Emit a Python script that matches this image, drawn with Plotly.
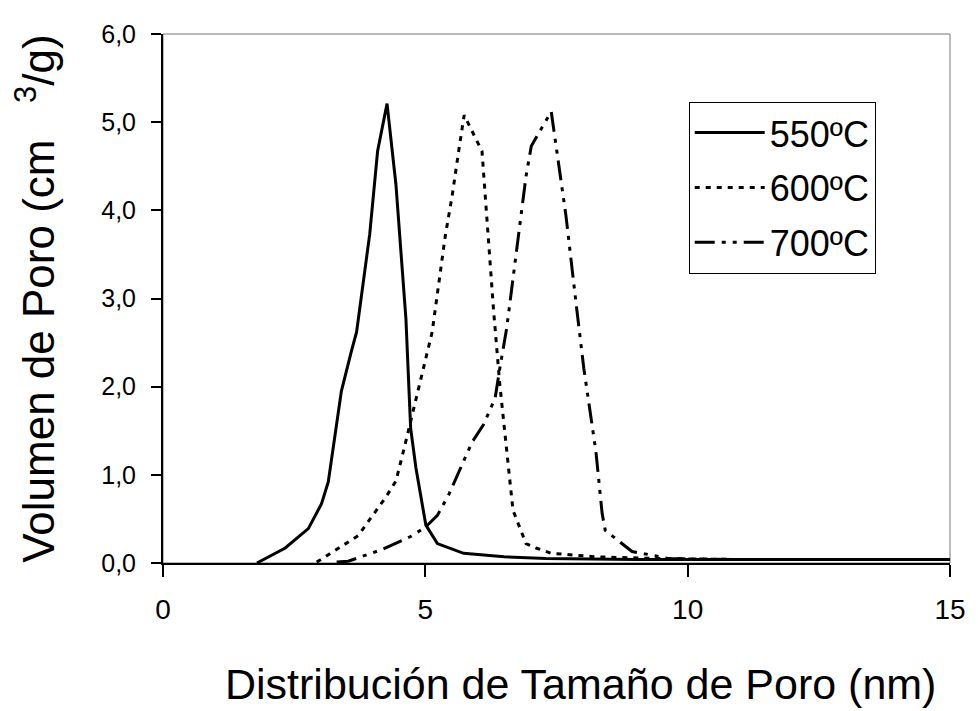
import plotly.graph_objects as go

# Data
x_550 = [1.79, 2.33, 2.77, 3.02, 3.15, 3.25, 3.40, 3.59, 3.69, 3.94, 4.09, 4.27, 4.44, 4.63,
         4.72, 4.82, 5.01, 5.23, 5.73, 6.5, 7.3, 9.0, 11.0, 13.0, 15.0]
y_550 = [0.0, 0.17, 0.39, 0.67, 0.92, 1.31, 1.95, 2.40, 2.62, 3.73, 4.67, 5.21, 4.29, 2.77,
         1.53, 1.08, 0.43, 0.22, 0.11, 0.07, 0.05, 0.04, 0.04, 0.04, 0.04]

x_600 = [2.93, 3.72, 4.25, 4.44, 4.60, 4.82, 4.97, 5.13, 5.38, 5.51, 5.64, 5.74, 6.08, 6.30,
         6.42, 6.52, 6.67, 6.92, 7.11, 7.40, 8.25, 9.5, 11.0, 13.0, 15.0]
y_600 = [0.01, 0.31, 0.75, 0.93, 1.31, 1.84, 2.23, 2.62, 3.71, 4.16, 4.69, 5.08, 4.67, 2.87,
         2.02, 1.46, 0.60, 0.22, 0.17, 0.11, 0.07, 0.05, 0.04, 0.04, 0.04]

x_700 = [3.31, 3.53, 4.16, 4.72, 5.01, 5.23, 5.45, 5.67, 5.89, 6.11, 6.33, 6.42, 6.55, 6.80,
         6.92, 7.02, 7.40, 7.43, 7.68, 7.87, 8.02, 8.25, 8.37, 8.43, 8.94, 9.31, 9.63, 11.0,
         13.0, 15.0]
y_700 = [0.01, 0.02, 0.15, 0.30, 0.41, 0.54, 0.78, 1.08, 1.37, 1.57, 1.87, 2.21, 2.66, 3.83,
         4.39, 4.73, 5.12, 4.99, 3.94, 2.96, 2.21, 1.27, 0.56, 0.37, 0.13, 0.09, 0.05, 0.04,
         0.04, 0.04]

series_names = ["550ºC", "600ºC", "700ºC"]
x_ticks = [0, 5, 10, 15]
y_ticks = [0, 1, 2, 3, 4, 5, 6]

FONT = "Liberation Sans, Arial, sans-serif"

fig = go.Figure()
fig.add_trace(go.Scatter(x=x_550, y=y_550, mode="lines", name=series_names[0],
                         legendgroup="a",
                         line=dict(color="black", width=3, dash="solid")))
fig.add_trace(go.Scatter(x=x_600, y=y_600, mode="lines", name=series_names[1],
                         legendgroup="b",
                         line=dict(color="black", width=3, dash="5px,6px")))
fig.add_trace(go.Scatter(x=x_700, y=y_700, mode="lines", name=series_names[2],
                         legendgroup="c",
                         line=dict(color="black", width=3,
                                   dash="20px,7px,4px,7px,4px,7px")))

# The page body adds an 8px offset, so the figure is 8px smaller and margins shifted.
fig.update_layout(
    width=970, height=703,
    margin=dict(l=155, r=20, t=22, b=148),
    paper_bgcolor="white", plot_bgcolor="white",
    separators=",.",
    font=dict(family=FONT, color="black"),
    showlegend=True,
    legend=dict(
        x=0.668, y=0.872, xanchor="left", yanchor="top",
        bgcolor="white", bordercolor="black", borderwidth=1,
        font=dict(size=36, family=FONT, color="black"),
        itemwidth=70, tracegroupgap=5,
    ),
    shapes=[dict(type="rect", xref="paper", yref="paper", x0=0, x1=1, y0=0, y1=1,
                 line=dict(color="#777777", width=1), layer="below")],
    annotations=[dict(text="Distribución de Tamaño de Poro (nm)", xref="paper", yref="paper",
                      x=0.53, y=-0.229, xanchor="center", yanchor="middle",
                      showarrow=False, font=dict(size=43, family=FONT, color="black"))],
)

fig.update_xaxes(
    range=[0, 15], tickvals=x_ticks, ticktext=[str(v) for v in x_ticks],
    showgrid=False, zeroline=False,
    showline=True, linecolor="black", linewidth=2,
    ticks="outside", ticklen=12, tickwidth=1.5, tickcolor="black",
    tickfont=dict(size=28, family=FONT, color="black"),
    ticklabelstandoff=8,
)
fig.update_yaxes(
    range=[0, 6], tickvals=y_ticks, tickformat=".1f",
    showgrid=False, zeroline=False,
    showline=True, linecolor="black", linewidth=2,
    ticks="outside", ticklen=10, tickwidth=1.5, tickcolor="black",
    tickfont=dict(size=25, family=FONT, color="black"),
    ticklabelstandoff=10,
    title=dict(text="Volumen de Poro (cm\u00a0\u00a0\u00a0<sup>3</sup>/g)",
               font=dict(size=44, family=FONT, color="black"), standoff=36),
)

fig.write_html("out.html")
